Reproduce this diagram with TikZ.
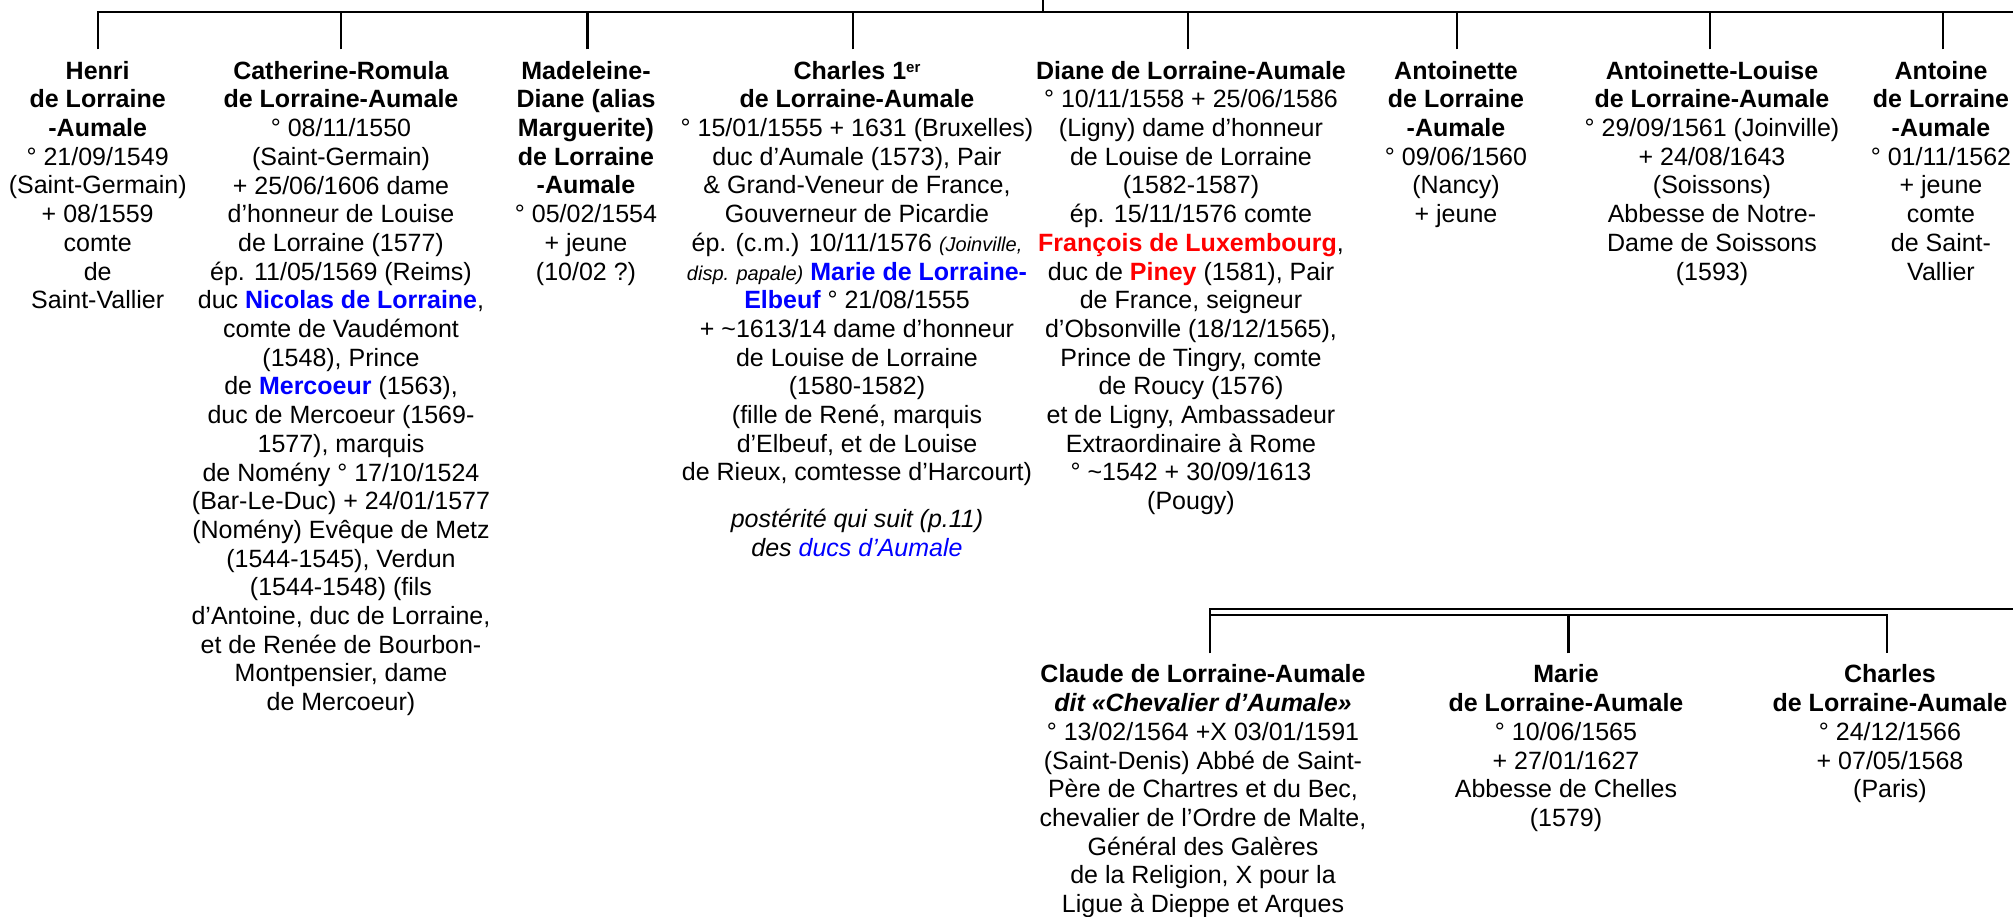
\documentclass[tikz,border=0pt]{standalone}
\usepackage{fontspec}
\setmainfont{Liberation Sans}
\definecolor{nameblue}{RGB}{0,0,255}
\definecolor{namered}{RGB}{255,0,0}
\newcommand{\bluename}[1]{\textbf{\color{nameblue}#1}}
\newcommand{\redname}[1]{\textbf{\color{namered}#1}}
\newcommand{\smallit}[1]{{\fontsize{20}{28.7}\selectfont\itshape #1}}
\begin{document}
\begin{tikzpicture}[x=1pt,y=-1pt,
  person/.style={anchor=north, inner sep=0pt, align=center, font=\fontsize{25}{28.7}\selectfont},
  link/.style={line width=2.1pt, line join=miter}]
\useasboundingbox (0,0) rectangle (2013,916);

% ---------- top row ----------
\node[person] (henri) at (97.7,58.9) {\strut\textbf{Henri}\\ \textbf{de Lorraine}\\ \textbf{-Aumale}\\
 ° 21/09/1549\\ (Saint-Germain)\\ + 08/1559\\ comte\\ de\\ Saint-Vallier};

\node[person] (cath) at (341,58.9) {\strut\textbf{Catherine-Romula}\\ \textbf{de Lorraine-Aumale}\\
 ° 08/11/1550\\ (Saint-Germain)\\ + 25/06/1606 dame\\ d’honneur de Louise\\ de Lorraine (1577)\\
 ép. 11/05/1569 (Reims)\\ duc \bluename{Nicolas de Lorraine},\\ comte de Vaudémont\\ (1548), Prince\\
 de \bluename{Mercoeur} (1563),\\ duc de Mercoeur (1569-\\ 1577), marquis\\ de Nomény ° 17/10/1524\\
 (Bar-Le-Duc) + 24/01/1577\\ (Nomény) Evêque de Metz\\ (1544-1545), Verdun\\ (1544-1548) (fils\\
 d’Antoine, duc de Lorraine,\\ et de Renée de Bourbon-\\ Montpensier, dame\\ de Mercoeur)};

\node[person] (madeleine) at (586,58.9) {\strut\textbf{Madeleine-}\\ \textbf{Diane (alias}\\ \textbf{Marguerite)}\\
 \textbf{de Lorraine}\\ \textbf{-Aumale}\\ ° 05/02/1554\\ + jeune\\ (10/02 ?)};

\node[person] (charles) at (857,58.9) {\strut\textbf{Charles 1{\fontsize{15}{28.7}\selectfont\raisebox{7pt}{er}}}\\ \textbf{de Lorraine-Aumale}\\
 ° 15/01/1555 + 1631 (Bruxelles)\\ duc d’Aumale (1573), Pair\\ \& Grand-Veneur de France,\\ Gouverneur de Picardie\\
 ép. (c.m.) 10/11/1576 \smallit{(Joinville,}\\ \smallit{disp. papale)} \bluename{Marie de Lorraine-}\\
 \bluename{Elbeuf} ° 21/08/1555\\ + \textasciitilde 1613/14 dame d’honneur\\ de Louise de Lorraine\\ (1580-1582)\\
 (fille de René, marquis\\ d’Elbeuf, et de Louise\\ de Rieux, comtesse d’Harcourt)\\[17.8pt]
 \textit{postérité qui suit (p.11)}\\ \textit{des {\color{nameblue}ducs d’Aumale}}};

\node[person] (diane) at (1191,58.9) {\strut\textbf{Diane de Lorraine-Aumale}\\ ° 10/11/1558 + 25/06/1586\\
 (Ligny) dame d’honneur\\ de Louise de Lorraine\\ (1582-1587)\\ ép. 15/11/1576 comte\\
 \redname{François de Luxembourg},\\ duc de \redname{Piney} (1581), Pair\\ de France, seigneur\\
 d’Obsonville (18/12/1565),\\ Prince de Tingry, comte\\ de Roucy (1576)\\ et de Ligny, Ambassadeur\\
 Extraordinaire à Rome\\ ° \textasciitilde 1542 + 30/09/1613\\ (Pougy)};

\node[person] (antoinette) at (1456,58.9) {\strut\textbf{Antoinette}\\ \textbf{de Lorraine}\\ \textbf{-Aumale}\\
 ° 09/06/1560\\ (Nancy)\\ + jeune};

\node[person] (alouise) at (1712,58.9) {\strut\textbf{Antoinette-Louise}\\ \textbf{de Lorraine-Aumale}\\
 ° 29/09/1561 (Joinville)\\ + 24/08/1643\\ (Soissons)\\ Abbesse de Notre-\\ Dame de Soissons\\ (1593)};

\node[person] (antoine) at (1941,58.9) {\strut\textbf{Antoine}\\ \textbf{de Lorraine}\\ \textbf{-Aumale}\\
 ° 01/11/1562\\ + jeune\\ comte\\ de Saint-\\ Vallier};

% ---------- lower row ----------
\node[person] (claude) at (1203,662.6) {\strut\textbf{Claude de Lorraine-Aumale}\\
 \textbf{\textit{dit «Chevalier d’Aumale»}}\\ ° 13/02/1564 +X 03/01/1591\\ (Saint-Denis) Abbé de Saint-\\
 Père de Chartres et du Bec,\\ chevalier de l’Ordre de Malte,\\ Général des Galères\\ de la Religion, X pour la\\
 Ligue à Dieppe et Arques};

\node[person] (marie) at (1566,662.6) {\strut\textbf{Marie}\\ \textbf{de Lorraine-Aumale}\\ ° 10/06/1565\\
 + 27/01/1627\\ Abbesse de Chelles\\ (1579)};

\node[person] (charlesb) at (1890,662.6) {\strut\textbf{Charles}\\ \textbf{de Lorraine-Aumale}\\ ° 24/12/1566\\
 + 07/05/1568\\ (Paris)};

% ---------- connectors ----------
\coordinate (parent) at (1042.7,0);
\coordinate (barR) at (2013,11.7);
\coordinate (lowR) at (2013,609.3);
\coordinate (lowB) at (2013,614.6);

\draw[link] (parent) -- (parent |- barR);
\draw[link] ([yshift=9.6pt]henri.north) |- (barR);
\foreach \n/\dx in {cath/0, madeleine/1.5, charles/-4, diane/-3.3, antoinette/1, alouise/-2, antoine/2}{
  \draw[link] ([xshift=\dx pt, yshift=9.6pt]\n.north) -- ([xshift=\dx pt]\n.north |- barR);
}

\draw[link] ([xshift=7pt, yshift=9.3pt]claude.north) |- (lowR);
\draw[link] ([xshift=7pt]claude.north |- lowB) -| ([xshift=-3pt, yshift=9.3pt]charlesb.north);
\draw[link] ([xshift=2.5pt, yshift=9.3pt]marie.north) -- ([xshift=2.5pt]marie.north |- lowB);
\end{tikzpicture}
\end{document}
